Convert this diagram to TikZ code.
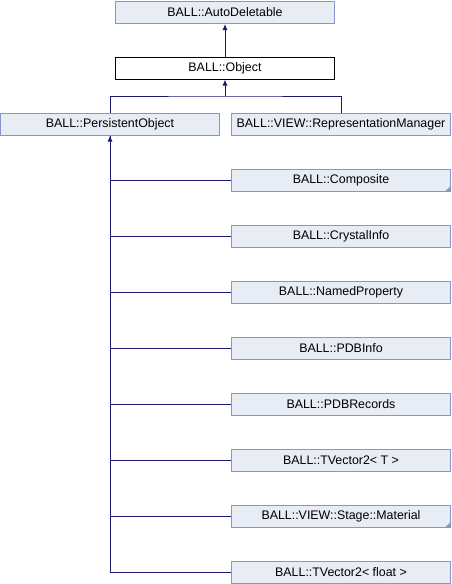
\documentclass[tikz,border=0pt]{standalone}
\usepackage{fontspec}
\setmainfont{Liberation Sans}
\usepackage{tikz}
\usetikzlibrary{arrows.meta}
\usetikzlibrary{calc}

\definecolor{boxfill}{HTML}{E8ECF5}
\definecolor{boxline}{HTML}{8497C7}
\definecolor{edgecol}{HTML}{191970}

\tikzset{
	cls/.style={draw=boxline, fill=boxfill, line width=1pt, minimum width=219pt,
		minimum height=22pt, inner sep=0pt, font=\fontsize{12.4}{14}\selectfont},
	curcls/.style={cls, draw=black, fill=white},
	edge/.style={draw=edgecol, line width=1pt},
	inh/.style={edge, -{Latex[length=6pt,width=5pt]}},
	more/.style={fill=boxline}
}

\begin{document}
\begin{tikzpicture}[x=1pt, y=-1pt]
	\useasboundingbox (0, 0) rectangle (452, 584);

	\node[cls] (autodel) at (225, 12.5) {BALL::AutoDeletable};
	\node[curcls] (object) at (225, 68) {BALL::Object};
	\node[cls] (persist) at (110, 124) {BALL::PersistentObject};
	\node[cls] (repman) at (341, 124) {BALL::VIEW::RepresentationManager};

	\node[cls] (composite) at (341, 180) {BALL::Composite};
	\node[cls] (crystal) at (341, 236) {BALL::CrystalInfo};
	\node[cls] (namedprop) at (341, 292) {BALL::NamedProperty};
	\node[cls] (pdbinfo) at (341, 348) {BALL::PDBInfo};
	\node[cls] (pdbrec) at (341, 404) {BALL::PDBRecords};
	\node[cls] (tvecT) at (341, 460) {BALL::TVector2< T >};
	\node[cls] (material) at (341, 516) {BALL::VIEW::Stage::Material};
	\node[cls] (tvecf) at (341, 572) {BALL::TVector2< float >};

	% little marks for classes with more children
	\fill[more] (composite.south east) -- ++(-6, 0) -- ++(6, -6) -- cycle;
	\fill[more] (material.south east) -- ++(-6, 0) -- ++(6, -6) -- cycle;

	\draw[inh] (object.north) -- (autodel.south);

	\coordinate (split) at (225, 96);
	\draw[inh] (split) -- (object.south);
	\draw[edge] (persist.north) |- (split) -| (repman.north);

	\foreach \n in {composite, crystal, namedprop, pdbinfo, pdbrec, tvecT, material, tvecf}
		\draw[edge] (\n.west) -| (persist.south);
	\draw[inh] ($(persist.south)+(0, 6)$) -- (persist.south);
\end{tikzpicture}
\end{document}
